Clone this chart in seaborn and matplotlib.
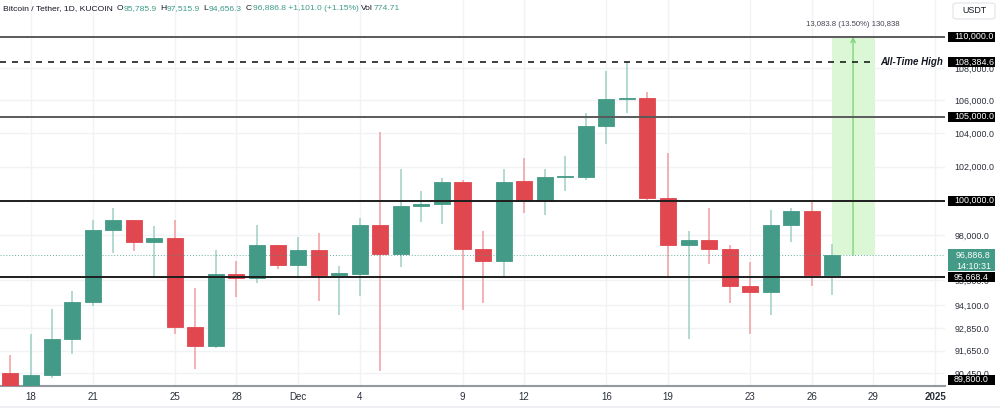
import numpy as np
import pandas as pd
import matplotlib
matplotlib.use("Agg")
import matplotlib.pyplot as plt
import matplotlib.dates as mdates
import matplotlib.transforms as mtransforms
from matplotlib.patches import Rectangle, FancyBboxPatch
import seaborn as sns

# ---------------- data ----------------
dates = pd.date_range("2024-11-17", "2024-12-27", freq="D")
opens = [90480, 89760, 90350, 92260, 94300, 98310, 98870, 97645, 97880, 92950,
         91920, 95820, 95610, 97450, 96350, 97160, 95800, 95820, 98580, 96930,
         99710, 99790, 101075, 97250, 96540, 101134, 99980, 101360, 101390, 104430,
         106090, 106150, 100175, 97440, 97760, 97250, 95170, 94850, 98615, 99400,
         95785.9]
highs = [91430, 92560, 93920, 94870, 98880, 99560, 98900, 98560, 98880, 95040,
         97180, 96570, 98600, 97480, 97895, 98160, 96270, 98985, 104080, 101880,
         100565, 101350, 101190, 98255, 101880, 102495, 101860, 102620, 105210, 107820,
         108384.6, 106520, 102810, 98240, 99595, 97460, 96520, 99460, 99560, 100000,
         97515.9]
lows = [88800, 89300, 90220, 91480, 94050, 97020, 97120, 95740, 92550, 90700,
        91810, 94570, 95340, 96090, 95680, 94350, 93580, 94620, 90560, 96240,
        98790, 98655, 93850, 94210, 95630, 99310, 99190, 100580, 101230, 103330,
        105210, 100040, 95680, 92270, 96370, 94250, 92530, 93570, 97630, 95170,
        94656.3]
closes = [89760, 90350, 92260, 94300, 98310, 98870, 97645, 97850, 92930, 91920,
          95820, 95610, 97450, 96350, 97160, 95800, 95880, 98600, 96930, 99710,
          99810, 101075, 97230, 96540, 101075, 99980, 101400, 101420, 104430, 106090,
          106150, 100175, 97440, 97760, 97230, 95170, 94850, 98615, 99400, 95760,
          96886.8]

xtick_dates = ["2024-11-18", "2024-11-21", "2024-11-25", "2024-11-28", "2024-12-01",
               "2024-12-04", "2024-12-09", "2024-12-12", "2024-12-16", "2024-12-19",
               "2024-12-23", "2024-12-26", "2024-12-29", "2025-01-01"]
xtick_labels = ["18", "21", "25", "28", "Dec", "4", "9", "12", "16", "19", "23", "26", "29", "2025"]

ytick_vals = [108000, 106000, 104000, 102000, 98000, 95500, 94100, 92850, 91650, 90450]
ytick_labels = ["108,000.0", "106,000.0", "104,000.0", "102,000.0", "98,000.0",
                "95,500.0", "94,100.0", "92,850.0", "91,650.0", "90,450.0"]

level_lines = [110000, 105000, 100000, 95668.4]
level_colors = ["#5a5a5a", "#5a5a5a", "#1e1e1e", "#1e1e1e"]
ath_level = 108384.6
box_levels = [110000, 108384.6, 105000, 100000, 95668.4, 89800]
box_labels = ["110,000.0", "108,384.6", "105,000.0", "100,000.0", "95,668.4", "89,800.0"]
last_price = 96886.8
last_time = "14:10:31"
range_start, range_end = "2024-12-27", "2024-12-29"
range_top = 110000
range_text = "13,083.8 (13.50%) 130,838"

title_text = "Bitcoin / Tether, 1D, KUCOIN"
ohlc_keys = ["O", "H", "L", "C", "Vol"]
ohlc_vals = ["95,785.9", "97,515.9", "94,656.3", "96,886.8 +1,101.0 (+1.15%)", "774.71"]
ohlc_x = [116.5, 160, 203, 246, 361]

# ---------------- style ----------------
sns.set_theme(style="white")
plt.rcParams['font.family'] = ['Liberation Sans', 'DejaVu Sans']

GREEN = "#439a86"
RED = "#e0474f"
GREEN_W = "#9fcfc3"
RED_W = "#f19ea2"
GRID = "#f0f2f6"
TXT = "#131722"
VALC = "#3d9c86"
AXFS = 6.4
HFS = 6.1

W, H = 1000, 408
fig = plt.figure(figsize=(W / 100, H / 100), dpi=100)
fig.patch.set_facecolor("white")
ax = fig.add_axes([0, 22 / H, 945 / W, 386 / H])
ax.set_facecolor("white")
ax.set_yscale("log")
ax.set_ylim(89791, 112371)
x0 = mdates.date2num(pd.Timestamp("2024-11-18"))
ax.set_xlim(x0 - 1.508, x0 + 44.48)

xs = mdates.date2num(dates)
o = np.array(opens, float); c = np.array(closes, float)
hi = np.array(highs, float); lo = np.array(lows, float)
up = c >= o
blo = np.minimum(o, c); bhi = np.maximum(o, c)
cols = [GREEN if u else RED for u in up]
wcols = [GREEN_W if u else RED_W for u in up]

# grid
xt = mdates.date2num(pd.to_datetime(xtick_dates))
for v in xt:
    ax.axvline(v, color=GRID, lw=1, zorder=0)
for v in ytick_vals + level_lines:
    ax.axhline(v, color=GRID, lw=1, zorder=0)

# candles
ax.vlines(xs, lo, hi, colors=wcols, lw=1.1, zorder=2)
ax.bar(xs, bhi - blo, bottom=blo, width=0.78, color=cols, edgecolor=cols,
       linewidth=0.6, zorder=3)

# range tool
rs = mdates.date2num(pd.Timestamp(range_start))
re_ = mdates.date2num(pd.Timestamp(range_end)) + 0.05
ax.add_patch(Rectangle((rs, last_price), re_ - rs, range_top - last_price,
                       facecolor="#dcf7d6", edgecolor="none", zorder=1))
xm = (rs + re_) / 2 - 0.02
ax.annotate("", xy=(xm, range_top), xytext=(xm, last_price),
            arrowprops=dict(arrowstyle="->", color="#7fd67b", lw=1.0,
                            shrinkA=0, shrinkB=0, mutation_scale=8), zorder=4)
ax.text(xm, 1 - 24 / 386, range_text,
        transform=mtransforms.blended_transform_factory(ax.transData, ax.transAxes),
        ha="center", va="center", fontsize=5.6, color="#434651")

# level lines
for v, col in zip(level_lines, level_colors):
    ax.axhline(v, color=col, lw=1.4, zorder=5)
ax.axhline(ath_level, xmin=0, xmax=870 / 945, color="#1e1e1e", lw=1.2,
           dashes=(3.6, 3.6), zorder=5)
ax.text(880 / 945, ath_level, "All-Time High",
        transform=mtransforms.blended_transform_factory(ax.transAxes, ax.transData),
        ha="left", va="center", fontsize=7.0, fontweight="bold", fontstyle="italic", color=TXT)
ax.axhline(last_price, color=GREEN, lw=0.7, ls=(0, (1, 2)), alpha=0.8, zorder=4)

# axes / ticks
for s in ["top", "left", "right"]:
    ax.spines[s].set_visible(False)
ax.spines["bottom"].set_color("#9598a1")
ax.spines["bottom"].set_linewidth(1.5)
ax.yaxis.set_minor_locator(matplotlib.ticker.NullLocator())
ax.yaxis.set_minor_formatter(matplotlib.ticker.NullFormatter())
ax.set_yticks(ytick_vals)
ax.set_yticklabels(ytick_labels)
ax.yaxis.tick_right()
ax.tick_params(axis="y", which="major", length=0, pad=7.0, labelsize=AXFS,
               labelcolor="#2a2e39", right=True, left=False, labelright=True, labelleft=False)
ax.set_xticks(xt)
ax.set_xticklabels(xtick_labels)
ax.tick_params(axis="x", length=0, pad=4.3, labelsize=7.0, labelcolor="#2a2e39")
ax.get_xticklabels()[-1].set_fontweight("bold")
ax.set_xlabel(""); ax.set_ylabel("")

# right-axis boxes
fig.canvas.draw()
renderer = fig.canvas.get_renderer()

def fig_y(price):
    _, yp = ax.transData.transform((xs[0], price))
    return yp  # display pixels from bottom

bottom_px = 22
for v, lab in zip(box_levels, box_labels):
    yp = fig_y(v)
    yp = max(yp, bottom_px + 6.5)
    fig.patches.append(Rectangle((948 / W, (yp - 5) / H), 47 / W, 10 / H, transform=fig.transFigure,
                                 facecolor="black", edgecolor="none", zorder=5))
    fig.text(954 / W, yp / H, lab, ha="left", va="center", fontsize=AXFS, color="white", zorder=6)

yp = fig_y(last_price)
fig.patches.append(Rectangle((948 / W, (yp - 16) / H), 47 / W, 22 / H, transform=fig.transFigure,
                             facecolor=GREEN, edgecolor="none", zorder=5))
fig.text(956 / W, (yp - 0.5) / H, f"{last_price:,.1f}", ha="left", va="center", fontsize=AXFS, color="white", zorder=6)
fig.text(956 / W, (yp - 11) / H, last_time, ha="left", va="center", fontsize=AXFS, color="white", zorder=6)

# USDT box
fig.patches.append(FancyBboxPatch((953 / W, (H - 19) / H), 42 / W, 16 / H,
                                  boxstyle="round,pad=0,rounding_size=0.005", transform=fig.transFigure,
                                  facecolor="white", edgecolor="#e0e3eb", lw=0.8, zorder=5))
fig.text(974 / W, 1 - 10.5 / H, "USDT", ha="center", va="center", fontsize=6.4, color=TXT, zorder=6)

# header
hy = 1 - 8.5 / H
fig.text(3 / W, hy, title_text, ha="left", va="center", fontsize=HFS, color=TXT, zorder=6)
for k, v, xp in zip(ohlc_keys, ohlc_vals, ohlc_x):
    t = fig.text(xp / W, hy, k, ha="left", va="center", fontsize=HFS, color=TXT, zorder=6)
    bb = t.get_window_extent(renderer=renderer)
    fig.text((bb.x1 + 0.8) / W, hy, v, ha="left", va="center", fontsize=HFS, color=VALC, zorder=6)

# bottom strip
fig.patches.append(Rectangle((0, 0), 1, 2.5 / H, transform=fig.transFigure,
                             facecolor="#eef0f4", edgecolor="none", zorder=5))

fig.savefig("out.png", dpi=100)
